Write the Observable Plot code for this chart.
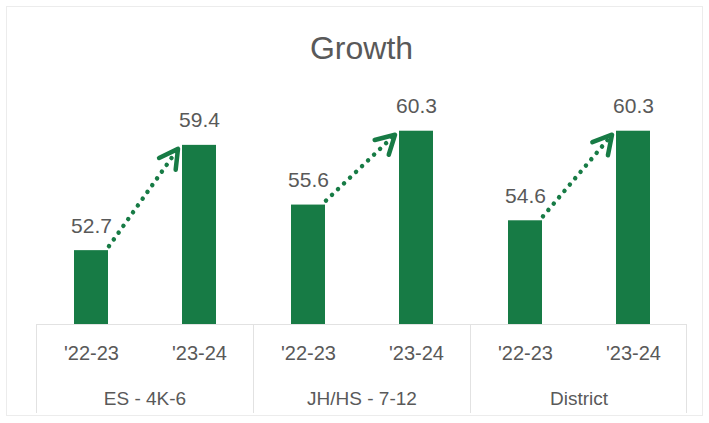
<!DOCTYPE html>
<html>
<head>
<meta charset="utf-8">
<script src="https://cdn.jsdelivr.net/npm/d3@7"></script>
<script src="https://cdn.jsdelivr.net/npm/@observablehq/plot@0.6"></script>
<style>
  html, body { margin: 0; padding: 0; background: #fff; }
  #wrap { position: relative; width: 709px; height: 423px; overflow: hidden; font-family: "Liberation Sans", Arial, sans-serif; }
  #border { position: absolute; left: 6px; top: 6px; width: 697px; height: 410px; border: 1px solid #ececec; box-sizing: border-box; }
  #title { position: absolute; left: 35px; width: 653px; top: 0; height: 80px; text-align: center; font-size: 32px; line-height: 1; color: #595959; }
  #title span { position: absolute; left: 0; right: 0; top: 32px; }
  #chart { position: absolute; left: 0; top: 80px; }
</style>
</head>
<body>
<div id="wrap">
  <div id="border"></div>
  <div id="title"><span>Growth</span></div>
  <div id="chart"></div>
</div>
<script>
const groups = ["ES - 4K-6", "JH/HS - 7-12", "District"];
const years = ["'22-23", "'23-24"];
const values2223 = [52.7, 55.6, 54.6];
const values2324 = [59.4, 60.3, 60.3];
const yMin = 48;
const yMax = 62;

const green = "#177b45";
const textGray = "#595959";
const lineGray = "#e2e2e2";

const rows = [];
groups.forEach((g, i) => {
  rows.push({group: g, year: years[0], value: values2223[i]});
  rows.push({group: g, year: years[1], value: values2324[i]});
});
const arrows = groups.map((g, i) => ({group: g, from: values2223[i], to: values2324[i]}));

const svgNS = "http://www.w3.org/2000/svg";
function el(name, attrs) {
  const e = document.createElementNS(svgNS, name);
  for (const k in attrs) e.setAttribute(k, attrs[k]);
  return e;
}

function arrowRender(index, scales) {
  const x = scales.x, y = scales.y, bw = x.bandwidth();
  const g = el("g", {});
  for (const i of index) {
    const d = arrows[i];
    const xs = x(years[0]) + bw + 1, ys = y(d.from) - 4;
    const xe = x(years[1]) - 4, ye = y(d.to) + 4;
    g.appendChild(el("line", {x1: xs, y1: ys, x2: xe, y2: ye, stroke: green, "stroke-width": 4.5,
      "stroke-linecap": "round", "stroke-dasharray": "0.01 8.3"}));
    const back = Math.atan2(ys - ye, xs - xe);
    const L = 21, a = 29 * Math.PI / 180;
    const p1 = [xe + L * Math.cos(back + a), ye + L * Math.sin(back + a)];
    const p2 = [xe + L * Math.cos(back - a), ye + L * Math.sin(back - a)];
    g.appendChild(el("path", {d: `M${p1[0]},${p1[1]}L${xe},${ye}L${p2[0]},${p2[1]}`, fill: "none",
      stroke: green, "stroke-width": 4.5, "stroke-linecap": "round", "stroke-linejoin": "round"}));
  }
  return g;
}

function sepRender(index, scales, values, dims) {
  const x = scales.x, y = scales.y;
  const [r0, r1] = x.range();
  const g = el("g", {});
  const yTop = y(yMin), yBot = dims.height - 10;
  for (const i of index) {
    g.appendChild(el("line", {x1: r0 + 0.5, x2: r0 + 0.5, y1: yTop, y2: yBot, stroke: lineGray, "stroke-width": 1}));
    if (i === groups.length - 1)
      g.appendChild(el("line", {x1: r1 - 0.5, x2: r1 - 0.5, y1: yTop, y2: yBot, stroke: lineGray, "stroke-width": 1}));
  }
  return g;
}

const chart = Plot.plot({
  width: 709,
  height: 343,
  marginTop: 24,
  marginBottom: 99,
  marginLeft: 35,
  marginRight: 21,
  style: {fontFamily: "'Liberation Sans', Arial, sans-serif", background: "transparent"},
  fx: {domain: groups, padding: 0, label: null, axis: null},
  x: {domain: years, paddingInner: 0.6875, paddingOuter: 0.344, label: null, axis: null},
  y: {domain: [yMin, yMax], axis: null},
  marks: [
    Plot.ruleY([yMin], {stroke: lineGray, strokeWidth: 1}),
    Plot.ruleY(groups, {fx: d => d, y: () => yMin, render: sepRender}),
    Plot.barY(rows, {fx: "group", x: "year", y1: () => yMin, y2: "value", fill: green}),
    Plot.text(rows, {fx: "group", x: "year", y: "value", text: d => d.value.toFixed(1), dy: -18,
      lineAnchor: "bottom", fontSize: 21, fill: textGray}),
    Plot.link(arrows, {fx: "group", x1: () => years[0], x2: () => years[1], y1: "from", y2: "to", render: arrowRender}),
    Plot.axisX({fontSize: 20, tickSize: 0, tickPadding: 21, fill: textGray, label: null}),
    Plot.axisFx({anchor: "bottom", fontSize: 19, tickSize: 0, tickPadding: 67, fill: textGray, label: null})
  ]
});
document.getElementById("chart").appendChild(chart);
</script>
</body>
</html>
